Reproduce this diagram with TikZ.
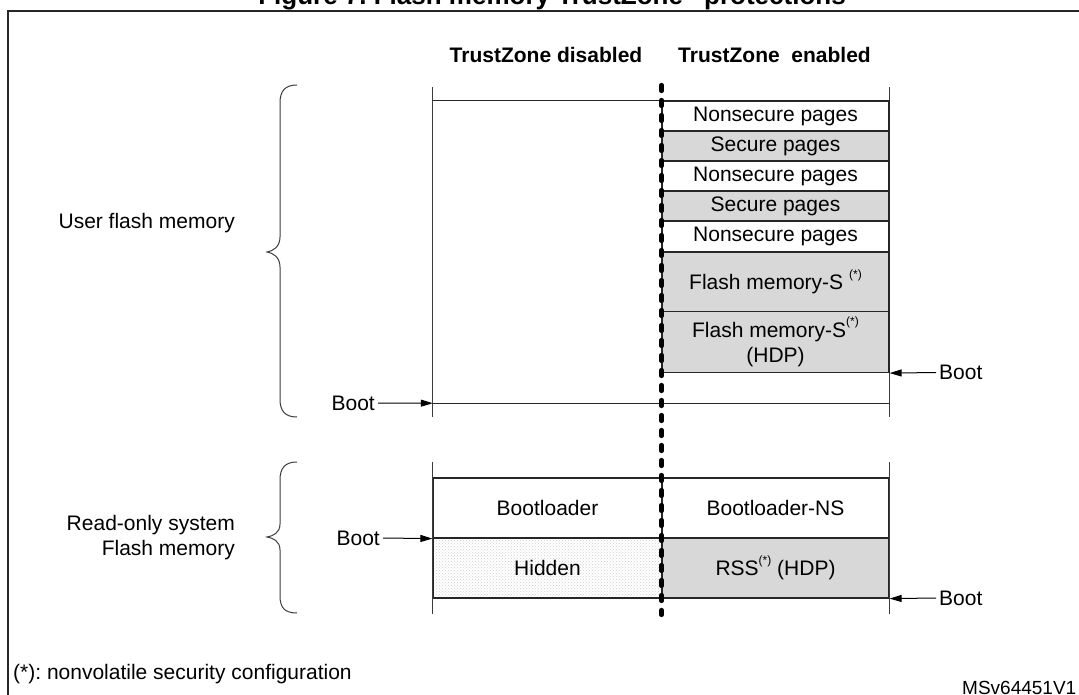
\documentclass[tikz,border=0pt]{standalone}
\usepackage{fontspec}
\setmainfont{Liberation Sans}
\usetikzlibrary{arrows.meta,patterns}
\definecolor{secgray}{RGB}{216,216,216}
\definecolor{linegray}{RGB}{60,60,60}
\frenchspacing
\begin{document}
\begin{tikzpicture}[x=1pt,y=-1pt,
  txt/.style={font=\fontsize{21}{25}\selectfont, inner sep=0pt, text=black},
  cell/.style={txt, draw=black!85, line width=1.2pt, align=center},
  secure/.style={cell, fill=secgray},
  plain/.style={cell, fill=white},
  hiddencell/.style={cell, preaction={fill=white}, pattern=crosshatch dots, pattern color=black!18},
  ext/.style={draw=linegray, line width=0.9pt},
  hline/.style={draw=black!85, line width=1.2pt},
  bootarrow/.style={draw=black, line width=1pt, -{Triangle[length=12pt,width=7pt]}},
  brace/.style={draw=linegray, line width=1pt},
  sep/.style={draw=black, line width=4.2pt, line cap=round, dash pattern=on 6pt off 9pt}
]
\useasboundingbox (0,0) rectangle (1079,695);
% frame
\draw[line width=2pt, draw=black!85] (8,720) -- (8,11) -- (1100,11);
% title (clipped at top, as in the reference)
\node[font=\bfseries\fontsize{26}{30}\selectfont, anchor=base, inner sep=0pt] (title) at (552,5) {Figure 7. Flash memory TrustZone\textsuperscript{®} protections};
% headers
\node[txt, font=\bfseries\fontsize{21}{25}\selectfont] (hdis) at (546,55) {TrustZone disabled};
\node[txt, font=\bfseries\fontsize{21}{25}\selectfont] (hen) at (774.5,55) {TrustZone\ \ enabled};

% upper section
\node[minimum width=456pt, minimum height=302pt, inner sep=0pt] (uf) at (661,252) {};
\draw[ext] ([yshift=14pt]uf.north west) -- ([yshift=-14pt]uf.south west);
\draw[ext] ([yshift=14pt]uf.north east) -- ([yshift=-14pt]uf.south east);
\draw[hline] (uf.north west) -- (uf.north east);
\draw[hline] (uf.south west) -- (uf.south east);

\node[plain, minimum width=227pt, minimum height=30pt] (ns1) at (775.5,116) {Nonsecure pages};
\node[secure, minimum width=227pt, minimum height=30pt] (s1) at (775.5,146) {Secure pages};
\node[plain, minimum width=227pt, minimum height=30pt] (ns2) at (775.5,176) {Nonsecure pages};
\node[secure, minimum width=227pt, minimum height=30pt] (s2) at (775.5,206) {Secure pages};
\node[plain, minimum width=227pt, minimum height=31pt] (ns3) at (775.5,236.5) {Nonsecure pages};
\node[secure, minimum width=227pt, minimum height=59pt] (fs) at (775.5,282) {Flash memory-S \raisebox{0.55em}{\fontsize{12}{14}\selectfont(*)}};
\node[secure, minimum width=227pt, minimum height=61pt] (fh) at (775.5,342) {Flash memory-S\raisebox{0.55em}{\fontsize{12}{14}\selectfont(*)}\\(HDP)};

% boot arrows upper
\node[txt, anchor=east, inner sep=3pt] (bootL1) at (378,403) {Boot};
\draw[bootarrow] (bootL1.east) -- (uf.south west);
\node[txt, anchor=west, inner sep=3pt] (bootR1) at (936,372.5) {Boot};
\draw[bootarrow] (bootR1.west) -- (fh.south east);

% lower section
\node[plain, minimum width=229pt, minimum height=60pt] (bl) at (547.5,508) {Bootloader};
\node[plain, minimum width=227pt, minimum height=60pt] (blns) at (775.5,508) {Bootloader-NS};
\node[hiddencell, minimum width=229pt, minimum height=60pt] (hid) at (547.5,568) {Hidden};
\node[secure, minimum width=227pt, minimum height=60pt] (rss) at (775.5,568) {RSS\raisebox{0.55em}{\fontsize{12}{14}\selectfont(*)} (HDP)};
\draw[ext] ([yshift=15pt]bl.north west) -- ([yshift=-15pt]hid.south west);
\draw[ext] ([yshift=15pt]blns.north east) -- ([yshift=-15pt]rss.south east);

\node[txt, anchor=east, inner sep=3pt] (bootL2) at (383,538) {Boot};
\draw[bootarrow] (bootL2.east) -- (bl.south west);
\node[txt, anchor=west, inner sep=3pt] (bootR2) at (936,598) {Boot};
\draw[bootarrow] (bootR2.west) -- (rss.south east);

% separator
\coordinate (septop) at (661.5,85);
\coordinate (sepbot) at (661.5,615);
\draw[sep] (septop) -- (sepbot);

% braces
\draw[brace] (297,85) .. controls (285,85) and (280,91) .. (280,103) -- (280,237)
  .. controls (280,247) and (273,251) .. (267,252)
  .. controls (273,253) and (280,257) .. (280,267) -- (280,399)
  .. controls (280,411) and (285,417) .. (297,417);
\draw[brace] (297,462) .. controls (285,462) and (280,468) .. (280,480) -- (280,524)
  .. controls (280,533) and (273,536) .. (267,537)
  .. controls (273,538) and (280,541) .. (280,550) -- (280,596)
  .. controls (280,608) and (285,613) .. (297,613);

% left labels
\node[txt, anchor=east] (ufm) at (235,223) {User flash memory};
\node[txt, anchor=east, align=right, font=\fontsize{21}{25}\selectfont] (rom) at (235,538) {Read-only system\\Flash memory};

% footnote and reference
\node[txt, anchor=west] (foot) at (13,674) {(*): nonvolatile security configuration};
\node[txt, anchor=west, font=\fontsize{19}{22}\selectfont] (ref) at (962,688) {MSv64451V1};
\end{tikzpicture}
\end{document}
